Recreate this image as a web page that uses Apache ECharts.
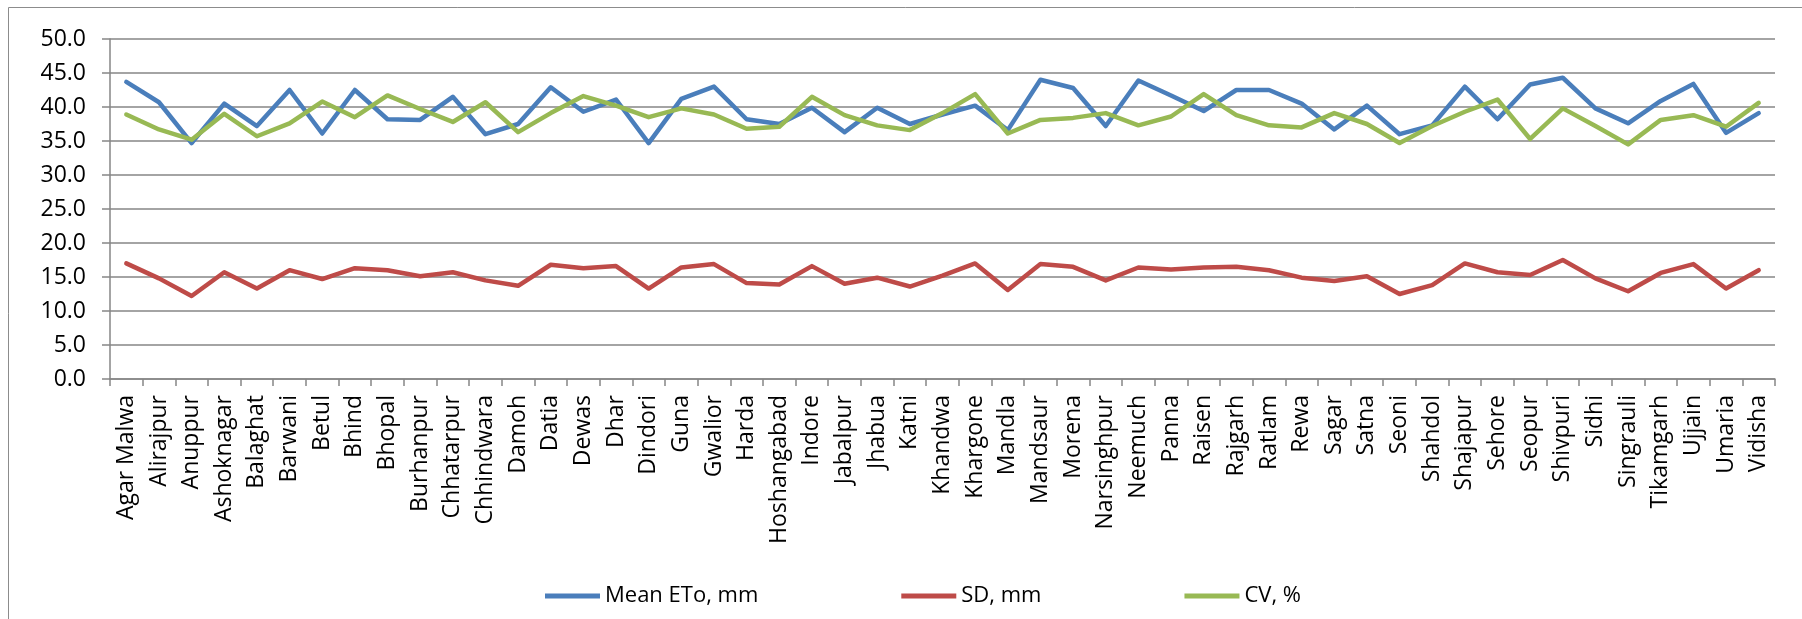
<!DOCTYPE html>
<html>
<head>
<meta charset="utf-8">
<script src="https://cdn.jsdelivr.net/npm/echarts@6/dist/echarts.min.js"></script>
<style>
html,body{margin:0;padding:0;background:#fff;}
#chart{width:1802px;height:619px;}
</style>
</head>
<body>
<div id="chart"></div>
<script>
const districts = ["Agar Malwa","Alirajpur","Anuppur","Ashoknagar","Balaghat","Barwani","Betul","Bhind","Bhopal","Burhanpur","Chhatarpur","Chhindwara","Damoh","Datia","Dewas","Dhar","Dindori","Guna","Gwalior","Harda","Hoshangabad","Indore","Jabalpur","Jhabua","Katni","Khandwa","Khargone","Mandla","Mandsaur","Morena","Narsinghpur","Neemuch","Panna","Raisen","Rajgarh","Ratlam","Rewa","Sagar","Satna","Seoni","Shahdol","Shajapur","Sehore","Seopur","Shivpuri","Sidhi","Singrauli","Tikamgarh","Ujjain","Umaria","Vidisha"];
const meanETo = [43.7,40.7,34.7,40.5,37.2,42.5,36.1,42.5,38.2,38.1,41.5,36.0,37.5,42.9,39.3,41.1,34.7,41.2,43.0,38.2,37.5,39.9,36.3,39.9,37.5,38.9,40.2,36.6,44.0,42.8,37.2,43.9,41.7,39.4,42.5,42.5,40.5,36.7,40.2,36.0,37.3,43.0,38.2,43.3,44.3,39.8,37.6,40.9,43.4,36.2,39.1];
const sdMM = [17.0,14.8,12.2,15.7,13.3,16.0,14.7,16.3,16.0,15.1,15.7,14.5,13.7,16.8,16.3,16.6,13.3,16.4,16.9,14.1,13.9,16.6,14.0,14.9,13.6,15.2,17.0,13.1,16.9,16.5,14.5,16.4,16.1,16.4,16.5,16.0,14.9,14.4,15.1,12.5,13.8,17.0,15.7,15.3,17.5,14.8,12.9,15.6,16.9,13.3,16.0];
const cvPct = [38.9,36.7,35.2,39.0,35.7,37.6,40.8,38.5,41.7,39.7,37.8,40.7,36.3,39.1,41.6,40.2,38.5,39.8,38.9,36.8,37.1,41.5,38.8,37.3,36.6,39.1,41.9,36.1,38.1,38.4,39.1,37.3,38.6,41.9,38.8,37.3,37.0,39.1,37.5,34.7,37.2,39.3,41.1,35.3,39.8,37.2,34.5,38.1,38.8,37.1,40.6];
const seriesNames = ["Mean ETo, mm","SD, mm","CV, %"];
const seriesColors = ["#4A7EBB","#BE4B48","#98B954"];

const FONT = "Open Sans";
const chart = echarts.init(document.getElementById('chart'), null, {renderer:'canvas'});
const mk = (name, data, color) => ({
  name, type:'line', data, symbol:'none', smooth:false,
  lineStyle:{width:4.5, color, cap:'round', join:'round'},
  itemStyle:{color}
});
chart.setOption({
  animation:false,
  backgroundColor:'#ffffff',
  graphic:[{type:'rect', shape:{x:8.5,y:7.5,width:1900,height:700}, style:{fill:'none', stroke:'#8c8c8c', lineWidth:1}, silent:true}],
  grid:{left:110, right:27, top:39, bottom:240, containLabel:false},
  legend:{
    left:540, top:580, itemGap:143, itemWidth:55, itemHeight:5, icon:'rect',
    textStyle:{fontFamily:FONT, fontSize:22, color:'#000'},
    data:seriesNames
  },
  xAxis:{
    type:'category', data:districts, boundaryGap:true,
    axisLine:{lineStyle:{color:'#868686', width:1.5}},
    axisTick:{show:true, interval:0, length:7, lineStyle:{color:'#868686', width:1.5}},
    axisLabel:{interval:0, rotate:90, margin:16, fontFamily:FONT, fontSize:23, color:'#000'}
  },
  yAxis:{
    type:'value', min:0, max:50, interval:5,
    axisLine:{show:true, lineStyle:{color:'#868686', width:1.5}},
    axisTick:{show:true, length:8, lineStyle:{color:'#868686', width:1.5}},
    axisLabel:{margin:24, fontFamily:FONT, fontSize:23, color:'#000', formatter:v=>v.toFixed(1)},
    splitLine:{show:true, lineStyle:{color:'#868686', width:1.5}}
  },
  series:[
    mk(seriesNames[0], meanETo, seriesColors[0]),
    mk(seriesNames[1], sdMM, seriesColors[1]),
    mk(seriesNames[2], cvPct, seriesColors[2])
  ]
});
</script>
</body>
</html>
